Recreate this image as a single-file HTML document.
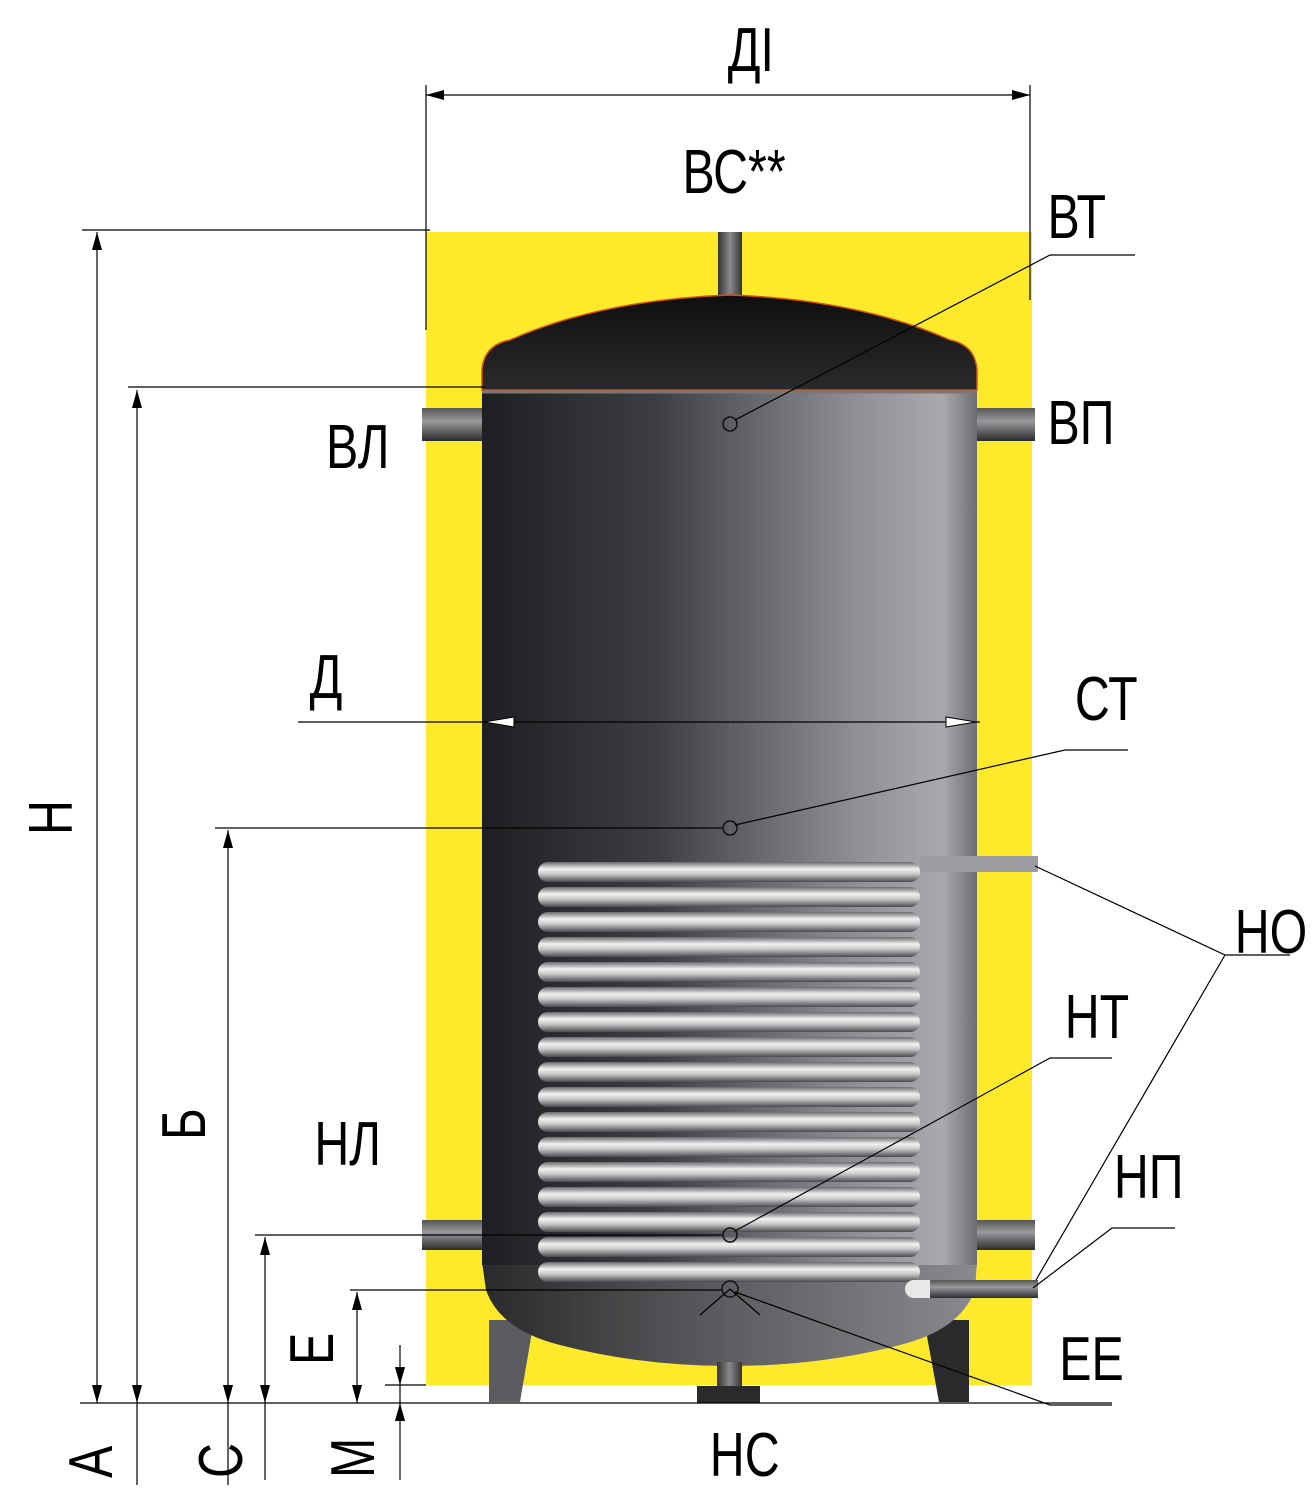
<!DOCTYPE html>
<html><head><meta charset="utf-8"><style>
html,body{margin:0;padding:0;background:#fff;}
svg{display:block;}
text{font-family:"Liberation Sans",sans-serif;font-size:62px;fill:#000;}
</style></head><body>
<svg width="1316" height="1500" viewBox="0 0 1316 1500" xmlns="http://www.w3.org/2000/svg">
<defs>
<linearGradient id="tank" x1="0" x2="1" y1="0" y2="0">
<stop offset="0" stop-color="#1e1f22"/>
<stop offset="0.35" stop-color="#3d3e43"/>
<stop offset="0.75" stop-color="#8e8e94"/>
<stop offset="0.93" stop-color="#a9a9ae"/>
<stop offset="1" stop-color="#6d6d72"/>
</linearGradient>
<linearGradient id="dome" x1="0" x2="0" y1="0" y2="1">
<stop offset="0" stop-color="#0f0f10"/>
<stop offset="1" stop-color="#2a2a2d"/>
</linearGradient>
<linearGradient id="bdome" x1="0" x2="1">
<stop offset="0" stop-color="#2a2a2c"/>
<stop offset="0.5" stop-color="#5e5e62"/>
<stop offset="1" stop-color="#8a8a8e"/>
</linearGradient>
<linearGradient id="tube" x1="0" x2="0" y1="0" y2="1">
<stop offset="0" stop-color="#6a6a6e"/>
<stop offset="0.35" stop-color="#f2f2f2"/>
<stop offset="0.6" stop-color="#c9c9cc"/>
<stop offset="1" stop-color="#4a4a4e"/>
</linearGradient>
<linearGradient id="pipe" x1="0" x2="0" y1="0" y2="1">
<stop offset="0" stop-color="#555"/>
<stop offset="0.4" stop-color="#9a9a9e"/>
<stop offset="1" stop-color="#2c2c2e"/>
</linearGradient>
<linearGradient id="vpipe" x1="0" x2="1">
<stop offset="0" stop-color="#333"/>
<stop offset="0.5" stop-color="#8a8a8e"/>
<stop offset="1" stop-color="#333"/>
</linearGradient>
</defs>

<rect x="426" y="232" width="606" height="1153" fill="#ffe92b"/>

<polygon points="489,1320 534,1320 520,1402 489,1402" fill="#5c5c60"/>
<polygon points="924,1320 969,1320 969,1402 939,1402" fill="#2a2a2c"/>
<rect x="697" y="1386" width="63" height="17" fill="#2a2a2c"/>

<rect x="718" y="232" width="24" height="70" fill="url(#vpipe)"/>
<rect x="422" y="408" width="64" height="33" fill="url(#pipe)"/>
<rect x="974" y="408" width="61" height="33" fill="url(#pipe)"/>
<rect x="422" y="1220" width="64" height="30" fill="url(#pipe)"/>
<rect x="974" y="1220" width="61" height="30" fill="url(#pipe)"/>

<path d="M482,1262 L977,1262 L975,1290 Q960,1330 900,1345 Q820,1366 730,1366 Q640,1366 560,1345 Q500,1330 486,1290 Z" fill="url(#bdome)"/>
<rect x="717" y="1362" width="25" height="24" fill="url(#vpipe)"/>

<rect x="482" y="390" width="495" height="875" fill="url(#tank)"/>
<path d="M482,390 L482,370 Q484,345 510,340 Q600,300 730,295 Q860,300 950,340 Q975,345 977,370 L977,390 Z" fill="url(#dome)" stroke="#d05020" stroke-width="1.5"/>
<line x1="482" y1="392" x2="977" y2="392" stroke="#777" stroke-width="3"/>
<line x1="730" y1="400" x2="730" y2="860" stroke="#6a6a6a" stroke-width="1"/>

<g fill="url(#tube)">
<rect x="538" y="862" width="382" height="20" rx="10"/>
<rect x="538" y="887" width="382" height="20" rx="10"/>
<rect x="538" y="912" width="382" height="20" rx="10"/>
<rect x="538" y="937" width="382" height="20" rx="10"/>
<rect x="538" y="962" width="382" height="20" rx="10"/>
<rect x="538" y="987" width="382" height="20" rx="10"/>
<rect x="538" y="1012" width="382" height="20" rx="10"/>
<rect x="538" y="1037" width="382" height="20" rx="10"/>
<rect x="538" y="1062" width="382" height="20" rx="10"/>
<rect x="538" y="1087" width="382" height="20" rx="10"/>
<rect x="538" y="1112" width="382" height="20" rx="10"/>
<rect x="538" y="1137" width="382" height="20" rx="10"/>
<rect x="538" y="1162" width="382" height="20" rx="10"/>
<rect x="538" y="1187" width="382" height="20" rx="10"/>
<rect x="538" y="1212" width="382" height="20" rx="10"/>
<rect x="538" y="1237" width="382" height="20" rx="10"/>
<rect x="538" y="1262" width="382" height="20" rx="10"/>
</g>
<rect x="920" y="856" width="118" height="16" fill="#9c9ca0"/>
<rect x="905" y="1280" width="40" height="18" rx="9" fill="#e8e8e8"/>
<rect x="930" y="1280" width="108" height="18" fill="url(#pipe)"/>

<g fill="none" stroke="#111" stroke-width="1.5">
<circle cx="730" cy="424" r="7"/>
<circle cx="730" cy="828" r="7"/>
<circle cx="730" cy="1235" r="7"/>
<circle cx="730" cy="1289" r="8"/>
</g>

<g stroke="#000" stroke-width="1.2" fill="none">
<line x1="426" y1="85" x2="426" y2="330"/>
<line x1="1030" y1="85" x2="1030" y2="300"/>
<line x1="426" y1="95" x2="1030" y2="95"/>
<line x1="82" y1="230" x2="430" y2="230"/>
<line x1="97" y1="232" x2="97" y2="1403"/>
<line x1="128" y1="387" x2="485" y2="387"/>
<line x1="137" y1="390" x2="137" y2="1403"/>
<line x1="215" y1="828" x2="722" y2="828"/>
<line x1="228" y1="830" x2="228" y2="1403"/>
<line x1="255" y1="1235" x2="722" y2="1235"/>
<line x1="265" y1="1237" x2="265" y2="1480"/>
<line x1="350" y1="1290" x2="722" y2="1290"/>
<line x1="357" y1="1292" x2="357" y2="1403"/>
<line x1="400" y1="1345" x2="400" y2="1480"/>
<line x1="385" y1="1385" x2="426" y2="1385"/>
<line x1="80" y1="1403" x2="1112" y2="1403"/>
<line x1="137" y1="1403" x2="137" y2="1485"/>
<line x1="228" y1="1403" x2="228" y2="1485"/>
<line x1="298" y1="722" x2="980" y2="722"/>
<polyline points="735,420 1050,255 1135,255"/>
<polyline points="735,825 1065,750 1128,750"/>
<polyline points="1035,866 1225,955 1290,955"/>
<line x1="1225" y1="955" x2="1036" y2="1280"/>
<polyline points="735,1231 1050,1058 1112,1058"/>
<polyline points="1033,1288 1112,1228 1175,1228"/>
<polyline points="735,1292 1050,1405 1112,1405"/>
<line x1="730" y1="1289" x2="700" y2="1315"/>
<line x1="730" y1="1289" x2="760" y2="1315"/>
</g>
<g fill="#000">
<polygon points="426,95 444,90 444,100"/>
<polygon points="1030,95 1012,90 1012,100"/>
<polygon points="97,232 92,250 102,250"/>
<polygon points="97,1403 92,1385 102,1385"/>
<polygon points="137,390 132,408 142,408"/>
<polygon points="137,1403 132,1385 142,1385"/>
<polygon points="228,830 223,848 233,848"/>
<polygon points="228,1403 223,1385 233,1385"/>
<polygon points="265,1237 260,1255 270,1255"/>
<polygon points="265,1403 260,1385 270,1385"/>
<polygon points="357,1292 352,1310 362,1310"/>
<polygon points="357,1403 352,1385 362,1385"/>
<polygon points="400,1385 395,1367 405,1367"/>
<polygon points="400,1403 395,1421 405,1421"/>
</g>
<g fill="#fff" stroke="#000" stroke-width="1">
<polygon points="484,722 514,717 514,727"/>
<polygon points="976,722 946,717 946,727"/>
</g>

<g transform="scale(0.78,1)">
<text x="933" y="71">ДІ</text>
<text x="875" y="193">ВС**</text>
<text x="1343" y="238">ВТ</text>
<text x="1343" y="444">ВП</text>
<text x="418" y="468">ВЛ</text>
<text x="397" y="698">Д</text>
<text x="1378" y="720">СТ</text>
<text x="1583" y="953">НО</text>
<text x="1365" y="1038">НТ</text>
<text x="403" y="1165">НЛ</text>
<text x="1428" y="1198">НП</text>
<text x="1358" y="1380">ЕЕ</text>
<text x="910" y="1476">НС</text>
</g>
<g transform="translate(72,835) rotate(-90) scale(0.78,1)"><text x="0" y="0">Н</text></g>
<g transform="translate(205,1140) rotate(-90) scale(0.78,1)"><text x="0" y="0">Б</text></g>
<g transform="translate(333,1365) rotate(-90) scale(0.78,1)"><text x="0" y="0">Е</text></g>
<g transform="translate(112,1478) rotate(-90) scale(0.78,1)"><text x="0" y="0">А</text></g>
<g transform="translate(242,1478) rotate(-90) scale(0.78,1)"><text x="0" y="0">С</text></g>
<g transform="translate(374,1478) rotate(-90) scale(0.78,1)"><text x="0" y="0">М</text></g>
</svg>
</body></html>
